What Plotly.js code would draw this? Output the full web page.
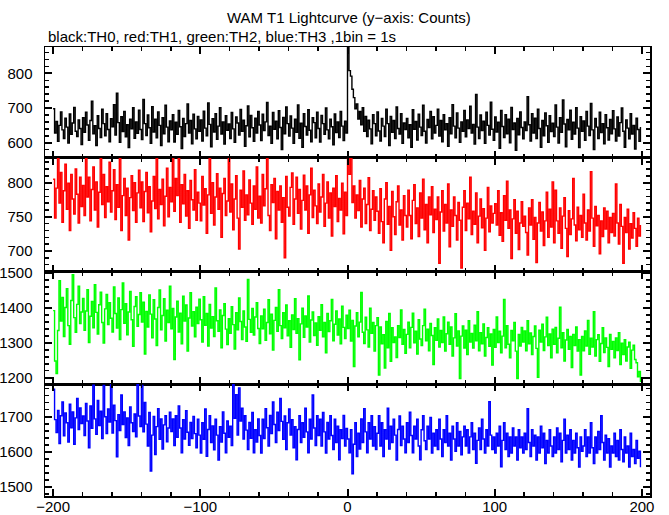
<!DOCTYPE html>
<html>
<head>
<meta charset="utf-8">
<script src="https://cdn.plot.ly/plotly-3.0.1.min.js"></script>
<style>
html,body{margin:0;padding:0;background:#fff;}
#chart{width:669px;height:515px;}
</style>
</head>
<body>
<div id="chart"></div>
<script>
// time bins: first bin start and bin width (s)
var timeStart = -200;
var binWidth = 1;

var th0 = [
698,628,661,604,650,689,637,612,671,645,599,683,624,657,702,633,618,666,641,595,
672,630,688,651,607,664,720,626,649,592,678,641,615,697,655,620,684,638,603,669,
646,710,622,743,658,601,675,632,690,617,652,586,668,640,701,613,660,627,694,638,
609,725,655,621,680,643,598,704,631,668,614,689,650,592,672,626,708,645,603,663,
637,681,602,659,624,693,646,583,670,618,655,712,628,664,597,682,640,611,676,633,
666,605,691,642,620,715,653,588,669,631,684,610,648,701,625,660,596,678,636,654,
612,687,640,601,674,657,622,696,633,665,590,649,706,617,679,643,604,671,628,690,
651,606,682,635,660,716,621,648,598,687,639,662,611,692,644,580,673,626,703,655,
619,677,642,598,668,630,709,613,656,587,684,647,622,695,636,603,672,658,614,688,
641,602,679,655,624,700,637,611,668,646,594,683,629,660,615,690,648,606,662,628,
880,808,792,754,730,698,712,668,690,652,701,633,676,618,665,640,597,681,655,620,
689,634,605,670,648,618,697,655,592,676,630,664,612,703,641,625,684,598,657,638,
670,614,652,587,695,639,661,608,682,645,621,708,633,599,667,644,690,611,675,628,
650,697,619,664,603,681,637,655,590,672,626,710,648,614,686,642,601,660,633,693,
617,666,641,705,628,653,596,739,645,612,680,635,662,598,688,650,622,717,639,607,
674,631,659,584,693,647,615,681,626,668,600,702,638,657,578,670,623,689,644,611,
660,635,733,652,605,684,628,671,612,697,641,587,664,620,686,649,601,678,632,656,
618,709,645,599,672,630,723,654,588,667,637,694,610,659,625,701,642,586,675,633,
663,607,690,648,621,713,637,580,670,645,612,688,629,655,597,681,643,608,667,626,
692,640,605,674,619,658,700,633,587,666,642,611,684,625,650,582,671,638,604,645
];

var th1 = [
805,748,792,836,770,815,742,788,827,761,799,730,812,776,754,820,783,741,808,765,
796,752,836,779,808,744,790,823,760,801,735,786,836,768,812,749,794,772,830,757,
788,819,746,797,764,836,730,781,806,752,792,716,778,810,759,800,742,785,818,763,
801,743,787,815,756,794,728,773,809,762,836,747,790,768,805,737,780,821,750,793,
772,836,758,806,781,836,742,797,769,812,751,788,733,803,775,760,819,745,786,770,
744,809,767,791,726,782,836,755,800,738,779,813,761,792,720,784,806,752,773,836,
757,798,731,776,810,748,703,789,764,817,745,782,753,804,770,739,795,761,823,748,
780,741,812,766,791,836,752,730,797,771,806,718,787,760,795,742,778,690,809,764,
751,793,814,739,776,808,755,790,732,774,811,760,795,726,782,821,749,789,766,740,
798,757,779,812,736,770,801,748,785,722,792,765,810,743,777,760,799,725,786,752,
836,812,836,771,795,748,782,759,803,735,776,792,740,768,807,730,761,788,745,779,
758,726,791,743,712,776,800,739,765,701,787,750,724,772,795,738,760,716,781,752,
735,789,752,718,774,797,740,763,721,785,748,805,731,768,712,779,753,794,727,761,
746,779,682,757,788,729,768,741,798,706,760,736,779,752,716,771,745,675,764,788,
730,770,747,808,724,758,739,785,712,751,776,734,762,701,748,793,728,766,741,755,
769,738,788,723,756,714,781,745,802,733,760,689,747,775,726,758,702,741,772,736,
751,727,694,763,738,775,717,749,683,741,771,729,757,708,744,786,720,761,735,801,
712,789,744,726,763,704,751,778,733,692,759,724,747,806,738,715,764,731,752,720,
783,741,716,760,729,816,748,707,765,737,752,696,744,721,763,732,758,712,749,727,
755,722,798,741,710,768,736,682,749,727,761,703,740,719,756,733,707,748,722,738
];

var th2 = [
1392,1248,1212,1335,1478,1362,1430,1318,1401,1455,1349,1296,1421,1495,1372,1330,1410,1462,1355,1388,
1427,1336,1391,1452,1301,1376,1418,1343,1466,1387,1325,1409,1445,1358,1299,1397,1438,1352,1415,1370,
1331,1460,1384,1342,1428,1309,1395,1471,1356,1412,1323,1388,1447,1366,1290,1404,1432,1347,1381,1443,
1359,1416,1268,1390,1345,1437,1382,1314,1423,1368,1292,1401,1451,1337,1378,1426,1305,1393,1358,1462,
1340,1398,1252,1374,1419,1331,1385,1297,1433,1362,1408,1276,1371,1443,1348,1389,1317,1402,1355,1425,
1366,1302,1432,1350,1384,1291,1410,1342,1375,1318,1457,1363,1333,1394,1286,1378,1412,1339,1295,1369,
1327,1403,1352,1282,1386,1337,1428,1361,1309,1391,1345,1304,1481,1367,1330,1398,1322,1374,1415,1341,
1298,1377,1340,1396,1307,1358,1423,1326,1382,1279,1364,1401,1333,1452,1349,1312,1386,1343,1408,1320,
1363,1287,1380,1338,1426,1327,1369,1251,1354,1399,1316,1377,1345,1434,1302,1365,1388,1321,1357,1293,
1375,1336,1409,1317,1358,1271,1384,1332,1363,1424,1306,1353,1391,1322,1368,1297,1405,1344,1312,1379,
1341,1393,1305,1364,1232,1348,1386,1317,1359,1444,1330,1298,1373,1337,1288,1399,1327,1358,1276,1349,
1372,1208,1345,1297,1323,1228,1361,1286,1384,1247,1343,1301,1317,1258,1349,1315,1394,1296,1338,1270,
1324,1359,1286,1344,1385,1300,1333,1268,1366,1311,1292,1349,1396,1306,1339,1277,1355,1321,1238,1343,
1307,1368,1288,1335,1301,1374,1276,1326,1359,1296,1345,1262,1314,1383,1291,1334,1198,1319,1348,1285,
1336,1266,1363,1302,1327,1285,1350,1306,1389,1277,1329,1297,1354,1262,1315,1343,1290,1325,1236,1338,
1287,1374,1301,1333,1271,1319,1424,1286,1349,1296,1257,1335,1306,1358,1276,1198,1324,1291,1344,1302,
1334,1277,1363,1297,1328,1266,1318,1348,1284,1201,1336,1302,1353,1278,1317,1373,1292,1325,1257,1339,
1296,1344,1271,1313,1402,1286,1329,1248,1308,1338,1281,1318,1229,1324,1292,1345,1276,1309,1208,1318,
1277,1334,1291,1364,1267,1313,1288,1389,1262,1309,1323,1247,1298,1343,1272,1314,1287,1232,1324,1281,
1304,1257,1314,1278,1329,1238,1299,1266,1309,1248,1288,1302,1227,1279,1293,1252,1243,1203,1218,1188
];

var th3 = [
1778,1692,1655,1718,1624,1703,1742,1646,1711,1683,1628,1736,1669,1714,1622,1697,1752,1664,1725,1681,
1702,1647,1738,1688,1612,1731,1667,1790,1694,1650,1746,1675,1716,1638,1789,1700,1652,1722,1685,1791,
1654,1733,1689,1586,1706,1661,1762,1678,1714,1641,1697,1618,1728,1683,1658,1708,1643,1791,1702,1672,
1789,1657,1741,1679,1617,1712,1546,1648,1701,1593,1672,1723,1636,1694,1608,1677,1703,1629,1668,1713,
1658,1694,1618,1703,1642,1731,1668,1598,1692,1637,1717,1656,1619,1684,1638,1701,1652,1612,1693,1648,
1597,1683,1636,1722,1588,1664,1703,1627,1674,1606,1693,1648,1577,1672,1628,1714,1653,1598,1688,1642,
1673,1618,1791,1696,1763,1648,1782,1688,1724,1637,1703,1662,1607,1684,1639,1712,1598,1663,1628,1694,
1647,1597,1693,1638,1723,1669,1617,1704,1652,1742,1678,1627,1713,1661,1752,1687,1636,1702,1607,1683,
1722,1648,1692,1612,1672,1578,1664,1703,1627,1683,1642,1724,1657,1598,1693,1637,1762,1668,1618,1703,
1647,1693,1617,1712,1657,1597,1684,1637,1703,1647,1607,1693,1627,1673,1578,1663,1638,1704,1617,1667,
1637,1598,1663,1538,1622,1683,1587,1653,1608,1694,1627,1723,1657,1598,1683,1637,1703,1617,1672,1607,
1653,1703,1617,1683,1587,1663,1637,1724,1608,1673,1627,1693,1648,1577,1664,1702,1618,1673,1637,1598,
1683,1627,1713,1647,1598,1673,1637,1693,1617,1578,1663,1703,1632,1607,1673,1637,1698,1597,1653,1617,
1663,1607,1693,1637,1587,1663,1627,1703,1617,1653,1577,1673,1637,1602,1683,1617,1658,1592,1643,1673,
1617,1663,1597,1643,1683,1607,1653,1568,1633,1668,1607,1693,1637,1597,1663,1617,1743,1648,1607,1643,
1597,1653,1617,1673,1558,1633,1683,1607,1653,1587,1643,1597,1668,1617,1643,1577,1663,1612,1643,1597,
1653,1607,1723,1627,1587,1663,1617,1648,1577,1643,1597,1673,1612,1653,1567,1633,1597,1663,1617,1587,
1643,1597,1668,1607,1653,1572,1633,1693,1597,1648,1607,1663,1577,1633,1597,1653,1612,1557,1643,1602,
1617,1663,1587,1643,1597,1683,1612,1567,1643,1597,1658,1607,1703,1627,1577,1648,1597,1638,1557,1617,
1597,1653,1587,1633,1577,1663,1607,1572,1643,1597,1617,1557,1653,1587,1607,1567,1633,1582,1602,1557
];

var seriesNames = ['TH0','TH1','TH2','TH3'];
var seriesColors = ['#000000','#ff0000','#00ff00','#0000ff'];
var seriesData = [th0, th1, th2, th3];

var yRanges = [[556,876],[670,836],[1182,1504],[1475,1793]];
var yMajor = [100,50,100,100];
var yMinor = [20,10,20,20];
var xRange = [-205.5,205.5];
var xTickVals = [-200,-100,0,100,200];

var titleText = 'WAM T1 Lightcurve (y\u2212axis: Counts)';
var subText = 'black:TH0, red:TH1, green:TH2, blue:TH3 ,1bin = 1s';

var FONT = 'Liberation Sans, Arial, Helvetica, sans-serif';

var traces = [];
var layout = {
  width: 669, height: 515,
  margin: {l:45, r:19, t:47, b:19, pad:0},
  paper_bgcolor:'#fff', plot_bgcolor:'#fff',
  showlegend:false,
  font:{family:FONT, size:15, color:'#000'},
  annotations:[
    {text:titleText, xref:'paper', yref:'paper', x:0.503, y:1, yshift:30, xanchor:'center', yanchor:'middle', showarrow:false, font:{family:FONT,size:15,color:'#000'}},
    {text:subText, xref:'paper', yref:'paper', x:0.002, y:1, yshift:11, xanchor:'left', yanchor:'middle', showarrow:false, font:{family:FONT,size:15,color:'#000'}}
  ]
};

var domains = [[0.7528,1],[0.5,0.7528],[0.2494,0.5],[0,0.2494]];

for (var i=0;i<4;i++){
  var n = i+1;
  var xa = n===1 ? 'x' : 'x'+n;
  var ya = n===1 ? 'y' : 'y'+n;
  traces.push({
    type:'scatter', mode:'lines', name:seriesNames[i],
    x0: timeStart, dx: binWidth, y: seriesData[i],
    xaxis: xa, yaxis: ya,
    line:{color:seriesColors[i], width:1.4, shape:'hv', simplify:false},
    hoverinfo:'skip'
  });
  var xkey = n===1 ? 'xaxis' : 'xaxis'+n;
  var ykey = n===1 ? 'yaxis' : 'yaxis'+n;
  layout[xkey] = {
    domain:[0,1], anchor: ya, range: xRange, autorange:false,
    tickmode:'array', tickvals: xTickVals,
    ticks:'inside', ticklen:7, tickwidth:2, tickcolor:'#000',
    minor:{dtick:20, tick0:0, ticks:'inside', ticklen:4, tickwidth:1.5, tickcolor:'#000', showgrid:false},
    showline:true, linecolor:'#000', linewidth:1.5, mirror:'allticks',
    showgrid:false, zeroline:false,
    showticklabels: n===4,
    ticklabelstandoff: -4,
    tickfont:{family:FONT,size:15,color:'#000'}
  };
  layout[ykey] = {
    domain: domains[i], anchor: xa, range: yRanges[i], autorange:false,
    dtick: yMajor[i], tick0:0,
    ticks:'inside', ticklen:7, tickwidth:2, tickcolor:'#000',
    minor:{dtick:yMinor[i], tick0:0, ticks:'inside', ticklen:4, tickwidth:1.5, tickcolor:'#000', showgrid:false},
    showline:true, linecolor:'#000', linewidth:1.5, mirror:'allticks',
    showgrid:false, zeroline:false,
    ticklabelstandoff: 8,
    tickfont:{family:FONT,size:15,color:'#000'}
  };
}

Plotly.newPlot('chart', traces, layout, {displayModeBar:false, staticPlot:true});
</script>
</body>
</html>
